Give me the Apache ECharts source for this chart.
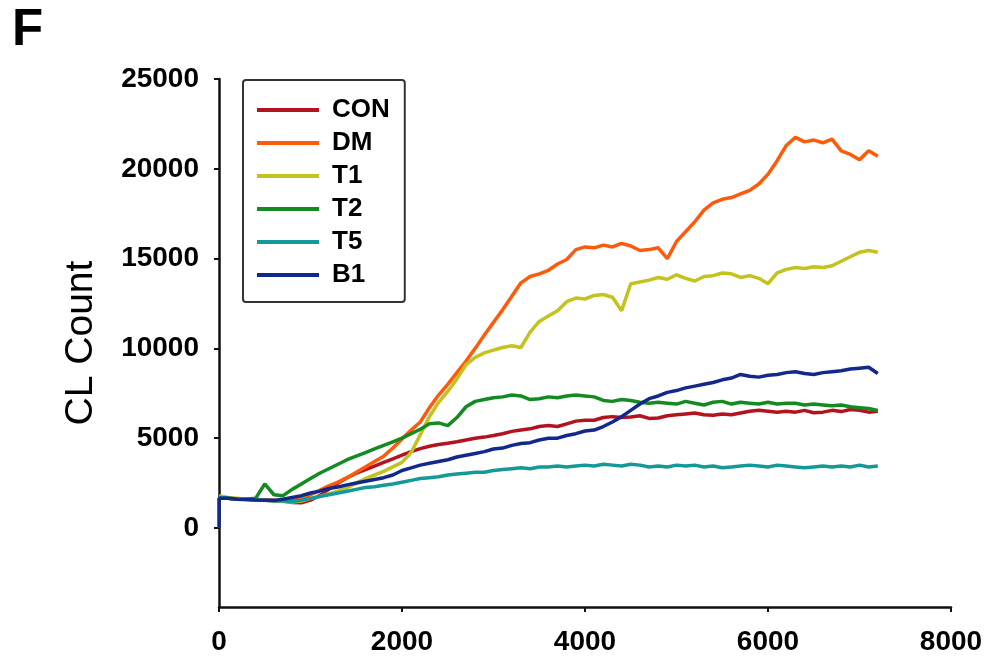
<!DOCTYPE html>
<html>
<head>
<meta charset="utf-8">
<script src="https://cdn.jsdelivr.net/npm/echarts@6/dist/echarts.min.js"></script>
<style>
html,body{margin:0;padding:0;background:#fff;}
#chart{width:989px;height:662px;}
</style>
</head>
<body>
<div id="chart"></div>
<script>
// time (s)
var times = [0,100,200,300,400,500,600,700,800,900,
  1000,1100,1200,1300,1400,1500,1600,1700,1800,1900,
  2000,2100,2200,2300,2400,2500,2600,2700,2800,2900,
  3000,3100,3200,3300,3400,3500,3600,3700,3800,3900,
  4000,4100,4200,4300,4400,4500,4600,4700,4800,4900,
  5000,5100,5200,5300,5400,5500,5600,5700,5800,5900,
  6000,6100,6200,6300,6400,6500,6600,6700,6800,6900,
  7000,7100,7200];

var seriesNames = ['CON','DM','T1','T2','T5','B1'];

var CON = [1700,1650,1620,1600,1580,1560,1540,1500,1420,1400,
  1550,1800,2150,2500,2800,3050,3250,3450,3650,3850,
  4050,4250,4420,4550,4650,4720,4800,4900,5000,5060,
  5150,5250,5380,5450,5520,5650,5700,5650,5800,5950,
  6000,6000,6150,6200,6150,6180,6250,6100,6120,6250,
  6300,6350,6400,6300,6280,6350,6300,6400,6500,6550,
  6500,6450,6500,6450,6550,6420,6450,6550,6480,6600,
  6550,6450,6500];

var DM = [1700,1650,1620,1600,1580,1560,1520,1500,1520,1650,
  1850,2100,2350,2550,2800,3100,3400,3700,4000,4450,
  4950,5450,5900,6700,7400,8000,8650,9300,10000,10750,
  11450,12150,12900,13650,14000,14150,14350,14700,14950,15500,
  15650,15600,15750,15650,15850,15700,15450,15500,15600,15000,
  15950,16500,17050,17700,18100,18300,18400,18600,18800,19150,
  19700,20450,21300,21750,21500,21600,21450,21650,21000,20800,
  20500,21000,20700];

var T1 = [1800,1700,1650,1600,1560,1540,1520,1480,1450,1500,
  1650,1750,1900,2050,2250,2500,2750,2950,3150,3400,
  3650,4200,5200,6200,7000,7600,8300,9100,9500,9750,
  9900,10050,10150,10050,10900,11500,11800,12100,12600,12800,
  12750,12950,13000,12850,12100,13600,13700,13800,13950,13850,
  14100,13900,13750,14000,14050,14200,14150,13950,14050,13900,
  13600,14200,14400,14500,14450,14550,14500,14600,14850,15100,
  15350,15450,15350];

var T2 = [1700,1650,1620,1600,1650,2450,1850,1800,2150,2450,
  2750,3050,3300,3550,3800,4000,4200,4400,4600,4800,
  5000,5250,5500,5800,5850,5700,6150,6750,7050,7150,
  7250,7300,7400,7350,7150,7200,7300,7250,7350,7400,
  7350,7300,7100,7050,7150,7100,7000,6950,7000,6950,
  6900,7050,6950,6850,7000,7050,6900,7000,6950,6900,
  7000,6900,6950,6950,6850,6900,6850,6800,6850,6750,
  6700,6650,6550];

var T5 = [1700,1650,1600,1580,1560,1540,1520,1500,1480,1550,
  1650,1750,1850,1950,2050,2150,2250,2300,2380,2450,
  2550,2650,2750,2800,2850,2950,3000,3050,3100,3100,
  3200,3250,3300,3350,3300,3400,3400,3450,3400,3450,
  3500,3450,3550,3500,3450,3550,3500,3400,3450,3400,
  3500,3450,3500,3400,3450,3350,3400,3450,3500,3450,
  3400,3500,3450,3400,3350,3400,3450,3400,3450,3400,
  3500,3400,3450];

var B1_onset = [[0, 0]];
var B1 = [1650,1650,1600,1580,1560,1550,1530,1600,1700,1800,
  1950,2050,2200,2280,2400,2500,2600,2700,2800,2950,
  3200,3350,3500,3600,3700,3800,3950,4050,4150,4250,
  4400,4450,4600,4700,4750,4900,5000,5000,5150,5250,
  5400,5450,5650,5900,6200,6550,6900,7200,7350,7550,
  7650,7800,7900,8000,8100,8250,8350,8550,8450,8400,
  8500,8550,8650,8700,8600,8550,8650,8700,8750,8850,
  8900,8950,8600];

var colors = ['#b3121f','#ff5a0a','#c4c21c','#138a22','#139a98','#13288c'];
var yTicks = [0,5000,10000,15000,20000,25000];
var xTicks = [0,2000,4000,6000,8000];

function pairs(vals){ return times.map(function(t,i){ return [t, vals[i]]; }); }
var dataSets = [pairs(CON), pairs(DM), pairs(T1), pairs(T2), pairs(T5), B1_onset.concat(pairs(B1))];

var chart = echarts.init(document.getElementById('chart'), null, {renderer:'canvas'});
var labelFont = {fontFamily:'Liberation Sans, Arial, sans-serif', fontWeight:'bold', fontSize:28, color:'#000',
  formatter:function(v){ return String(v); }};

chart.setOption({
  animation:false,
  backgroundColor:'#fff',
  color: colors,
  graphic:[{type:'text', left:12, top:5, style:{text:'F', font:'bold 51px "Liberation Sans", Arial, sans-serif', fill:'#000'}}],
  grid:{left:219, right:38, top:79, bottom:55, containLabel:false},
  legend:{
    orient:'vertical', left:243, top:80,
    data: seriesNames,
    icon:'rect', itemWidth:62, itemHeight:4, itemGap:7,
    padding:[17,15,14,14],
    borderColor:'#333', borderWidth:2, borderRadius:3,
    textStyle:{fontFamily:'Liberation Sans, Arial, sans-serif', fontWeight:'bold', fontSize:26, color:'#000', lineHeight:23, padding:[0,0,0,8]}
  },
  xAxis:{
    type:'value', min:0, max:8000, interval:2000,
    axisLine:{show:true, onZero:false, lineStyle:{color:'#111', width:2.5}},
    axisTick:{show:true, length:5, lineStyle:{color:'#111', width:2}},
    axisLabel:Object.assign({margin:21}, labelFont),
    splitLine:{show:false}
  },
  yAxis:{
    type:'value', min:-4400, max:25000,
    name:'CL Count', nameLocation:'middle', nameGap:118,
    nameTextStyle:{fontFamily:'Liberation Sans, Arial, sans-serif', fontSize:39, color:'#000'},
    axisLine:{show:true, onZero:false, lineStyle:{color:'#111', width:2.5}},
    axisTick:{show:true, length:5, customValues:yTicks, lineStyle:{color:'#111', width:2}},
    axisLabel:Object.assign({margin:20, customValues:yTicks}, labelFont),
    splitLine:{show:false}
  },
  series: seriesNames.map(function(n,i){
    return {name:n, type:'line', data:dataSets[i], showSymbol:false, symbol:'none',
      lineStyle:{width:3.5, color:colors[i]}, itemStyle:{color:colors[i]}};
  })
});
</script>
</body>
</html>
